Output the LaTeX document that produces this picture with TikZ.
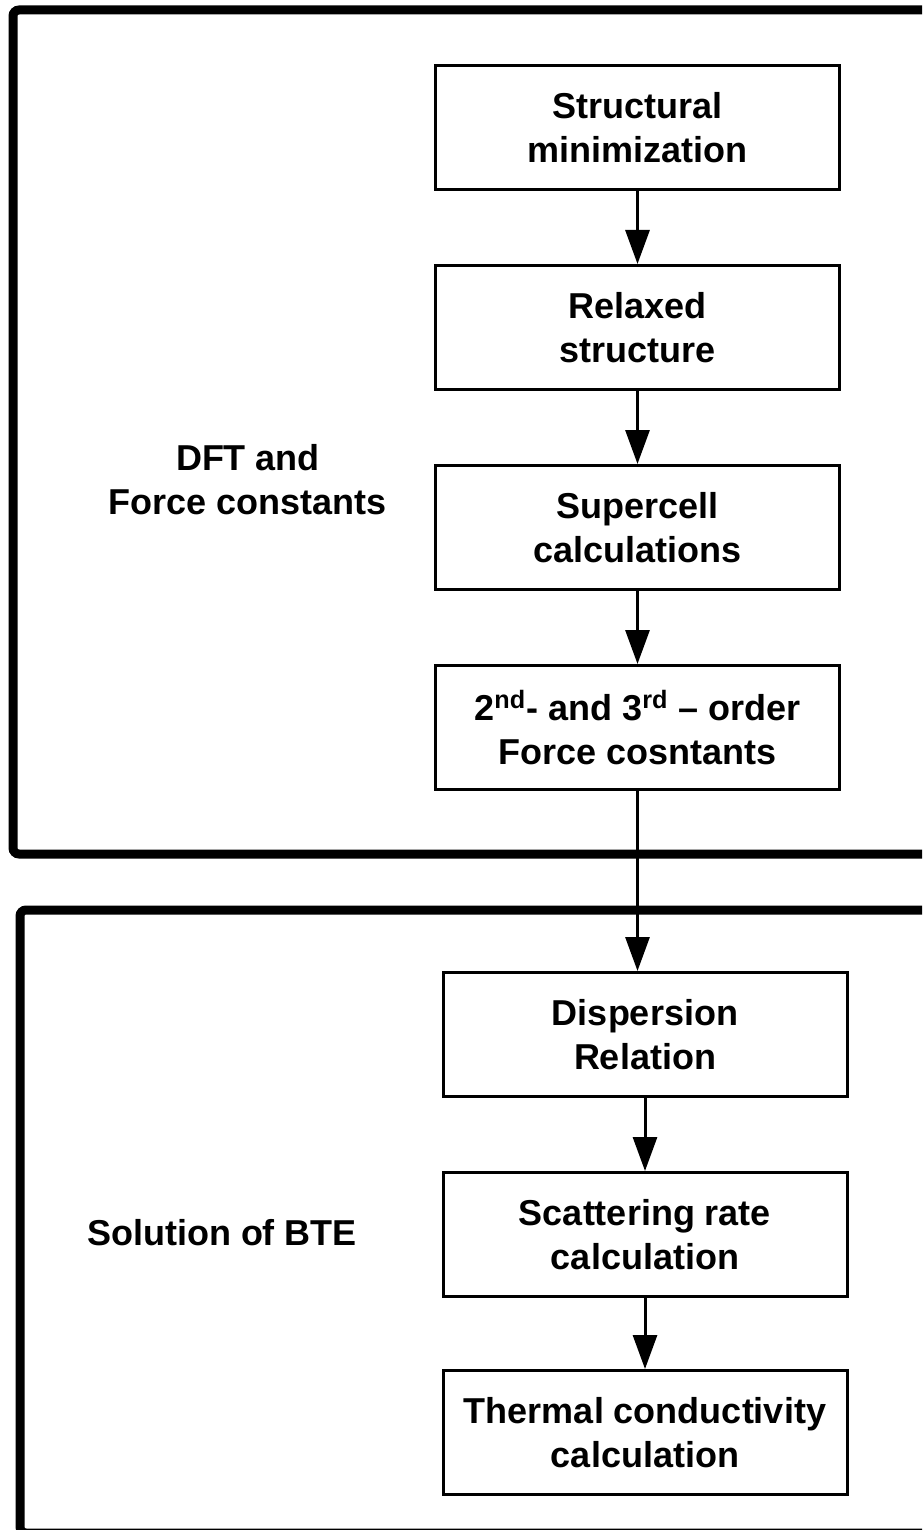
\documentclass[tikz,border=0pt]{standalone}
\usepackage{fontspec}
\setmainfont{Liberation Sans}
\usetikzlibrary{arrows.meta}
\begin{document}
\begin{tikzpicture}[x=0.5pt,y=-0.5pt,
  etape/.style={draw,line width=1.5pt,minimum width=202pt,minimum height=62pt,
    align=center,font=\fontsize{18}{22}\selectfont\bfseries},
  titre/.style={align=center,font=\fontsize{18}{22}\selectfont\bfseries},
  fleche/.style={line width=1.5pt,-{Triangle[length=17pt,width=12pt]}},
  cadre/.style={line width=4.5pt,rounded corners=3pt}]

  \useasboundingbox (0,0) rectangle (922,1530);
  \clip (0,0) rectangle (922,1530);

  % les deux cadres
  \draw[cadre] (960,10) -- (13,10) -- (13,854) -- (960,854);
  \draw[cadre] (960,910) -- (20,910) -- (20,1533) -- (960,1533);

  % les titres
  \node[titre] (dft) at (248,480) {DFT and\\Force constants};
  \node[titre] (bte) at (222,1233) {Solution of BTE};

  % les etapes
  \node[etape] (min) at (637.5,127.5) {Structural\\minimization};
  \node[etape] (rel) at (637.5,327.5) {Relaxed\\structure};
  \node[etape] (sup) at (637.5,527.5) {Supercell\\calculations};
  \node[etape] (fc)  at (637.5,727.5) {2\textsuperscript{nd}- and 3\textsuperscript{rd} -- order\\Force cosntants};
  \node[etape] (dis) at (645,1034.5) {Dispersion\\Relation};
  \node[etape] (sca) at (645,1234.5) {Scattering rate\\calculation};
  \node[etape] (kap) at (645,1432.5) {Thermal conductivity\\calculation};

  % les fleches
  \draw[fleche] (min) -- (rel);
  \draw[fleche] (rel) -- (sup);
  \draw[fleche] (sup) -- (fc);
  \draw[fleche] (fc.south) -- (fc.south |- dis.north);
  \draw[fleche] (dis) -- (sca);
  \draw[fleche] (sca) -- (kap);
\end{tikzpicture}
\end{document}
